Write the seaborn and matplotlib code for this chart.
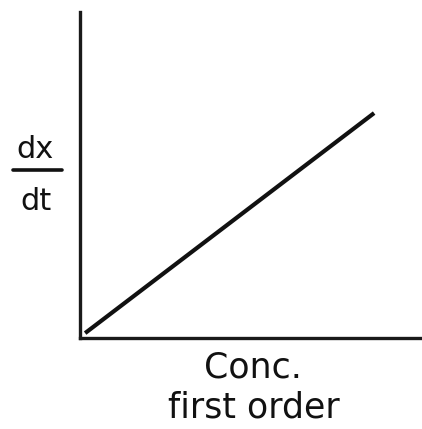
import matplotlib
matplotlib.use("Agg")
import matplotlib.pyplot as plt
import seaborn as sns
import pandas as pd
from matplotlib.lines import Line2D

# Rate vs concentration for a first-order reaction (schematic, arbitrary units)
conc = [1.5, 86.0]
rate = [1.5, 69.0]

x_title_lines = ["Conc.", "first order"]
y_top = "dx"
y_bottom = "dt"

sns.set_theme(style="white")
plt.rcParams["font.family"] = ["DejaVu Sans"]

df = pd.DataFrame({"conc": conc, "rate": rate})

fig = plt.figure(figsize=(4.22, 4.29), dpi=100)
W, H = 422, 429
ax = fig.add_axes([80 / W, (H - 338) / H, (422 - 80) / W, (338 - 12) / H])

sns.lineplot(data=df, x="conc", y="rate", ax=ax, color="#111111",
             linewidth=3.0, solid_capstyle="butt")

ax.set_xlim(0, 100)
ax.set_ylim(0, 100)
ax.set_xticks([])
ax.set_yticks([])
ax.set_xlabel("")
ax.set_ylabel("")
for side in ("top", "right"):
    ax.spines[side].set_visible(False)
for side in ("left", "bottom"):
    ax.spines[side].set_color("#1a1a1a")
    ax.spines[side].set_linewidth(2.4)

# x-axis caption below the axis, two lines
fig.text(252.5 / W, 1 - 377 / H, x_title_lines[0], ha="center", va="baseline",
         fontsize=25, color="#111111")
fig.text(253.5 / W, 1 - 418 / H, x_title_lines[1], ha="center", va="baseline",
         fontsize=25, color="#111111")

# dx/dt written as a stacked fraction
fig.text(35 / W, 1 - 158 / H, y_top, ha="center", va="baseline",
         fontsize=22, color="#111111")
fig.text(36.5 / W, 1 - 210 / H, y_bottom, ha="center", va="baseline",
         fontsize=22, color="#111111")
fig.add_artist(Line2D([13 / W, 62 / W], [1 - 170 / H, 1 - 170 / H],
                      transform=fig.transFigure, color="#111111", linewidth=2.6))

fig.savefig("out.png", dpi=100)
